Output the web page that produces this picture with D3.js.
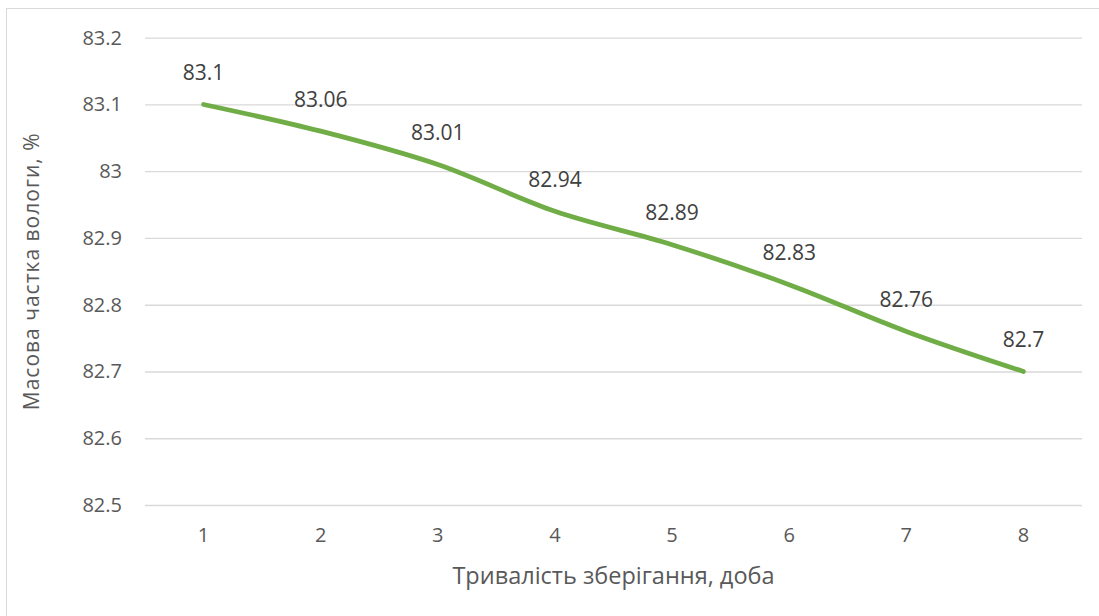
<!DOCTYPE html>
<html>
<head>
<meta charset="utf-8">
<script src="https://cdn.jsdelivr.net/npm/d3@7"></script>
<style>
  html, body { margin: 0; padding: 0; background: #fff; }
  svg { display: block; }
</style>
</head>
<body>
<svg id="chart" width="1099" height="616"></svg>
<script>
// Moisture content over storage time
const days = ["1", "2", "3", "4", "5", "6", "7", "8"];
const moisture = [83.1, 83.06, 83.01, 82.94, 82.89, 82.83, 82.76, 82.7];
const yTicks = [82.5, 82.6, 82.7, 82.8, 82.9, 83.0, 83.1, 83.2];
const xTitle = "Тривалість зберігання, доба";
const yTitle = "Масова частка вологи, %";

const svg = d3.select("#chart");
const W = 1099, H = 616;
const plot = { left: 145, right: 1082, top: 37.7, bottom: 505 };
const textColor = "#595959";
const font = "Open Sans, Noto Sans, sans-serif";

// Chart frame
svg.append("rect")
  .attr("x", 6.5).attr("y", 8.5)
  .attr("width", W).attr("height", H)
  .attr("fill", "#fff")
  .attr("stroke", "#d9d9d9").attr("stroke-width", 1);

const x = d3.scaleBand().domain(days).range([plot.left, plot.right]);
const y = d3.scaleLinear().domain([82.5, 83.2]).range([plot.bottom, plot.top]);

// Horizontal gridlines with y tick labels
const yAxis = d3.axisLeft(y)
  .tickValues(yTicks)
  .tickSize(-(plot.right - plot.left))
  .tickPadding(23)
  .tickFormat(d => String(+d.toFixed(1)));
const gy = svg.append("g").attr("transform", `translate(${plot.left},0)`).call(yAxis);
gy.select(".domain").remove();
gy.selectAll(".tick line").attr("stroke", "#d9d9d9").attr("stroke-width", 1.3);
gy.selectAll(".tick text")
  .attr("fill", textColor)
  .style("font-family", font)
  .style("font-size", "20px");

// X axis labels
const xAxis = d3.axisBottom(x).tickSize(0).tickPadding(23);
const gx = svg.append("g").attr("transform", `translate(0,${plot.bottom})`).call(xAxis);
gx.select(".domain").remove();
gx.selectAll(".tick text")
  .attr("fill", textColor)
  .style("font-family", font)
  .style("font-size", "20px");

// Series line
const cx = d => x(d) + x.bandwidth() / 2;
const line = d3.line()
  .x((d, i) => cx(days[i]))
  .y(d => y(d))
  .curve(d3.curveCatmullRom.alpha(0));
svg.append("path")
  .datum(moisture)
  .attr("d", line)
  .attr("fill", "none")
  .attr("stroke", "#70ad47")
  .attr("stroke-width", 4.75)
  .attr("stroke-linecap", "round")
  .attr("stroke-linejoin", "round");

// Data labels
svg.append("g").selectAll("text")
  .data(moisture)
  .join("text")
  .attr("x", (d, i) => cx(days[i]))
  .attr("y", d => y(d) - 32.5)
  .attr("text-anchor", "middle")
  .attr("dominant-baseline", "central")
  .attr("fill", "#404040")
  .style("font-family", font)
  .style("font-size", "21px")
  .text(d => d);

// Axis titles
svg.append("text")
  .attr("x", (plot.left + plot.right) / 2)
  .attr("y", 575)
  .attr("text-anchor", "middle")
  .attr("dominant-baseline", "central")
  .attr("fill", textColor)
  .style("font-family", font)
  .style("font-size", "23.5px")
  .text(xTitle);

svg.append("text")
  .attr("transform", `translate(31,${(plot.top + plot.bottom) / 2}) rotate(-90)`)
  .attr("text-anchor", "middle")
  .attr("dominant-baseline", "central")
  .attr("fill", textColor)
  .style("font-family", font)
  .style("font-size", "21px")
  .style("letter-spacing", "1px")
  .text(yTitle);
</script>
</body>
</html>
